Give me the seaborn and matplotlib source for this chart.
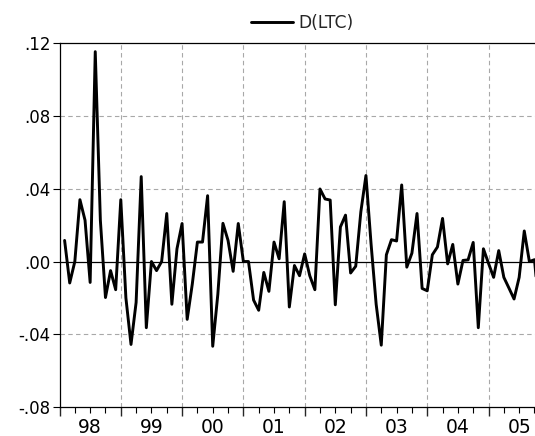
import numpy as np
import pandas as pd
import matplotlib
matplotlib.use("Agg")
import matplotlib.pyplot as plt
import matplotlib.ticker as mticker
import seaborn as sns

sns.set_style("white")
plt.rcParams['font.family'] = ['DejaVu Sans']

# D(LTC), monthly, 1998M02 .. 2005M11
d1998 = [0.0116, -0.0118, 0.000, 0.034, 0.0227, -0.0115, 0.1154, 0.0227, -0.0198, -0.005, -0.0155]
d1999 = [0.034, -0.020, -0.0456, -0.0225, 0.0467, -0.0364, 0.000, -0.005, 0.000, 0.0264, -0.0235, 0.007]
d2000 = [0.0209, -0.0318, -0.0124, 0.0107, 0.0107, 0.0362, -0.0466, -0.018, 0.021, 0.0116, -0.0054, 0.0209]
d2001 = [0.000, 0.000, -0.0212, -0.0268, -0.006, -0.0164, 0.0107, 0.0015, 0.0329, -0.025, -0.0022, -0.0078]
d2002 = [0.0042, -0.0078, -0.0155, 0.0399, 0.0344, 0.0338, -0.0238, 0.019, 0.0255, -0.0063, -0.0026, 0.0273]
d2003 = [0.0473, 0.0098, -0.0235, -0.046, 0.0037, 0.012, 0.0113, 0.0421, -0.0031, 0.0046, 0.0264, -0.0148]
d2004 = [-0.0161, 0.0037, 0.008, 0.0237, -0.0013, 0.0094, -0.0124, 0.0006, 0.0009, 0.0105, -0.0364, 0.007]
d2005 = [-0.001, -0.0087, 0.006, -0.0087, -0.0146, -0.0206, -0.0087, 0.0168, 0.000, 0.001, -0.030]

year_labels = ['98', '99', '00', '01', '02', '03', '04', '05']
y_ticks = [-0.08, -0.04, 0.00, 0.04, 0.08, 0.12]

values = d1998 + d1999 + d2000 + d2001 + d2002 + d2003 + d2004 + d2005
periods = pd.period_range('1998-02', periods=len(values), freq='M')
df = pd.DataFrame({'D(LTC)': values})
df['t'] = (periods.year - 1998) * 12 + periods.month - 1

W, H = 535, 436
fig = plt.figure(figsize=(W / 100, H / 100), dpi=100)
# axis runs 1998M01..2005M12, right end falls past the picture edge
x0, x1 = 59.5, 544.7
ytop, ybot = 43.3, 407.0
ax = fig.add_axes([x0 / W, 1 - ybot / H, (x1 - x0) / W, (ybot - ytop) / H])

sns.lineplot(data=df, x='t', y='D(LTC)', color='black', lw=2.1, ax=ax,
             label='D(LTC)')

ax.set_xlim(0, 95)
ax.set_ylim(-0.08, 0.12)
ax.set_xlabel('')
ax.set_ylabel('')

# grid
for yv in [0.08, 0.04, -0.04]:
    ax.axhline(yv, color='#a8a8a8', lw=0.8, ls=(0, (4, 3)), zorder=0)
for k in range(1, 8):
    ax.axvline(12 * k, color='#a8a8a8', lw=0.8, ls=(0, (4, 3)), zorder=0)
ax.axhline(0, color='black', lw=0.9, zorder=1)

# y axis
ax.set_yticks(y_ticks)
ax.yaxis.set_major_formatter(mticker.FuncFormatter(
    lambda v, p: ('%.2f' % v).replace('0.', '.')))
ax.tick_params(axis='y', direction='out', length=5, width=0.8, pad=1.5,
               labelsize=12, left=True, colors='black')

# x axis: year ticks long, quarter ticks short, labels mid-year
ax.xaxis.set_major_locator(mticker.FixedLocator([12 * k for k in range(8)]))
ax.xaxis.set_major_formatter(mticker.NullFormatter())
quarters = [q for q in range(0, 96, 3) if q % 12 != 0]
ax.xaxis.set_minor_locator(mticker.FixedLocator(quarters))
ax.xaxis.set_minor_formatter(mticker.FuncFormatter(
    lambda v, p: year_labels[int(v) // 12] if int(round(v)) % 12 == 6 else ''))
ax.tick_params(axis='x', which='major', direction='out', length=6.5, width=1.0,
               bottom=True)
ax.tick_params(axis='x', which='minor', direction='out', length=4.3, width=0.8,
               bottom=True, labelsize=13.5, pad=3.5, colors='black')

for s in ['left', 'bottom', 'top', 'right']:
    ax.spines[s].set_color('black')
    ax.spines[s].set_linewidth(0.9)

ax.legend(loc='lower center', bbox_to_anchor=(0.5, 1.0), frameon=False,
          fontsize=12.3, handlelength=2.5, handletextpad=0.3,
          borderaxespad=0.25)

fig.savefig('out.png', dpi=100)
